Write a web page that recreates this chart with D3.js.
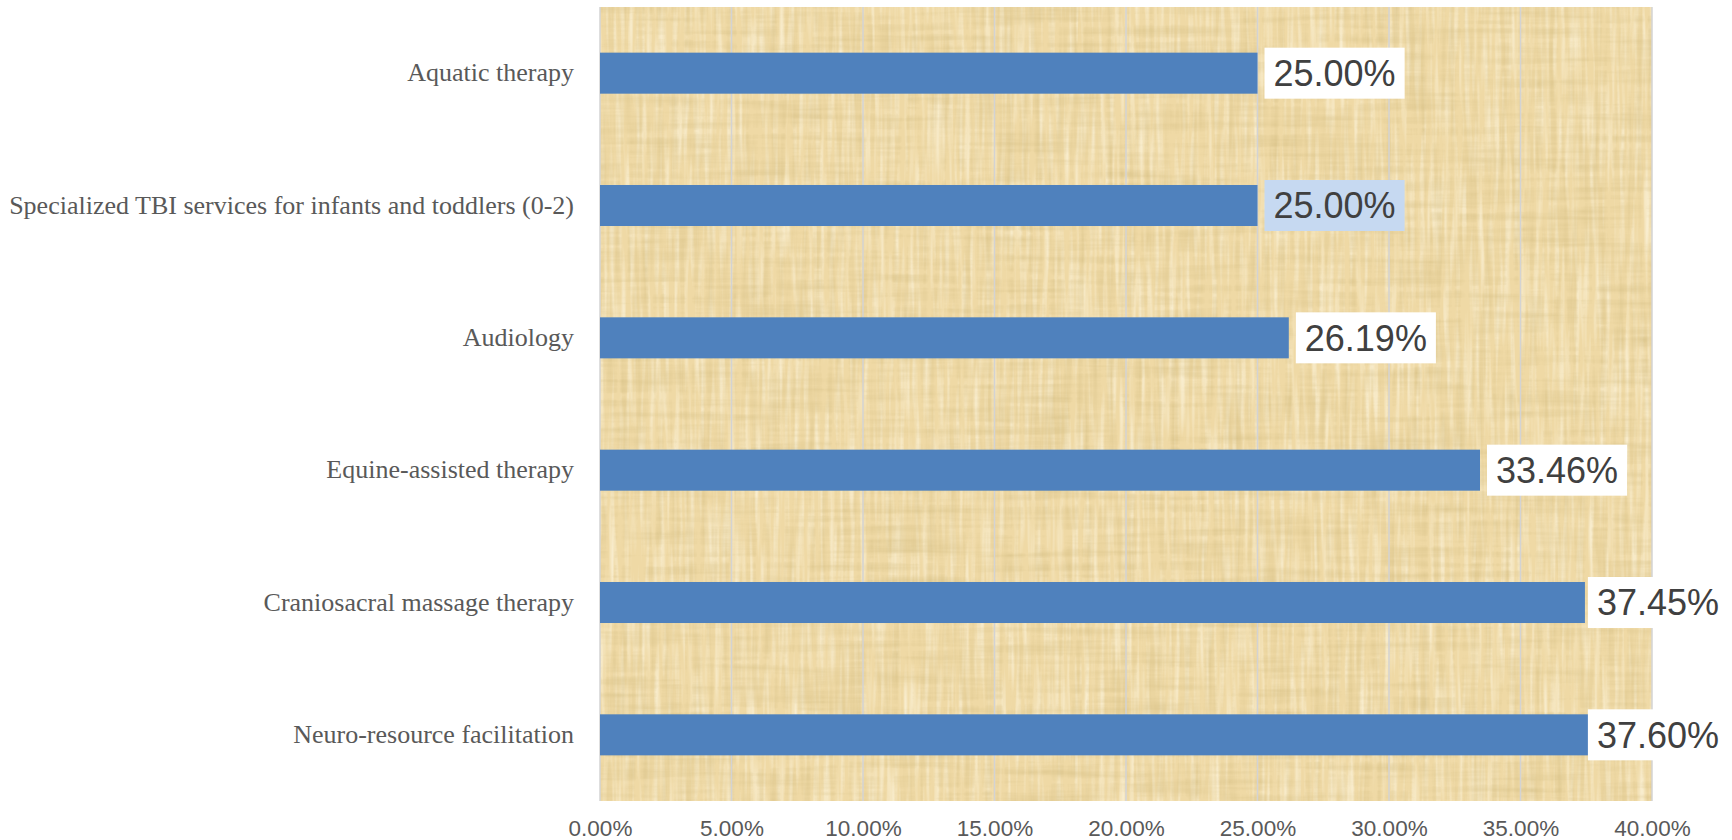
<!DOCTYPE html>
<html>
<head>
<meta charset="utf-8">
<script src="https://cdn.jsdelivr.net/npm/d3@7"></script>
<style>
  html, body { margin: 0; padding: 0; background: #ffffff; }
  svg { display: block; }
</style>
</head>
<body>
<svg id="chart" width="1732" height="840"></svg>
<script>
// ---- data ----
const categories = [
  "Aquatic therapy",
  "Specialized TBI services for infants and toddlers (0-2)",
  "Audiology",
  "Equine-assisted therapy",
  "Craniosacral massage therapy",
  "Neuro-resource facilitation"
];
const values = [25.00, 25.00, 26.19, 33.46, 37.45, 37.60];
const highlighted = [false, true, false, false, false, false];
const xTicks = [0, 5, 10, 15, 20, 25, 30, 35, 40];

// ---- layout ----
const W = 1732, H = 840;
const margin = { left: 600, top: 7 };
const plotW = 1052, plotH = 794;

const svg = d3.select("#chart");
const defs = svg.append("defs");

// papyrus-like texture filter
const f = defs.append("filter").attr("id", "papyrus")
  .attr("x", 0).attr("y", 0).attr("width", "100%").attr("height", "100%");
f.append("feTurbulence").attr("type", "fractalNoise")
  .attr("baseFrequency", "0.008 0.14").attr("numOctaves", 3).attr("seed", 4).attr("result", "h");
f.append("feTurbulence").attr("type", "fractalNoise")
  .attr("baseFrequency", "0.14 0.008").attr("numOctaves", 3).attr("seed", 9).attr("result", "v");
f.append("feComposite").attr("in", "h").attr("in2", "v").attr("operator", "arithmetic")
  .attr("k2", 0.5).attr("k3", 0.5).attr("result", "mix");
f.append("feColorMatrix").attr("in", "mix").attr("type", "matrix")
  .attr("values", "0 0 0 0 0.62  0 0 0 0 0.48  0 0 0 0 0.2  1.3 0 0 0 -0.55");

const f2 = defs.append("filter").attr("id", "papyrusLight")
  .attr("x", 0).attr("y", 0).attr("width", "100%").attr("height", "100%");
f2.append("feTurbulence").attr("type", "fractalNoise")
  .attr("baseFrequency", "0.2 0.012").attr("numOctaves", 2).attr("seed", 21).attr("result", "n");
f2.append("feColorMatrix").attr("in", "n").attr("type", "matrix")
  .attr("values", "0 0 0 0 1  0 0 0 0 0.96  0 0 0 0 0.82  1.4 0 0 0 -0.6");

const x = d3.scaleLinear().domain([0, 40]).range([0, plotW]);
const y = d3.scaleBand().domain(categories).range([0, plotH])
  .paddingInner(0.69).paddingOuter(0.345);

const g = svg.append("g").attr("transform", `translate(${margin.left},${margin.top})`);

// plot background
g.append("rect").attr("width", plotW).attr("height", plotH).attr("fill", "#efd9a5");
g.append("rect").attr("width", plotW).attr("height", plotH).attr("fill", "#fff")
  .attr("filter", "url(#papyrusLight)");
g.append("rect").attr("width", plotW).attr("height", plotH).attr("fill", "#fff")
  .attr("filter", "url(#papyrus)");

// gridlines
g.selectAll("line.grid").data(xTicks).join("line")
  .attr("class", "grid")
  .attr("x1", d => x(d)).attr("x2", d => x(d))
  .attr("y1", 0).attr("y2", plotH)
  .attr("stroke", "#d3d3d3").attr("stroke-width", 1.5);

// bars
g.selectAll("rect.bar").data(categories).join("rect")
  .attr("class", "bar")
  .attr("x", 0)
  .attr("y", d => y(d))
  .attr("width", (d, i) => x(values[i]))
  .attr("height", y.bandwidth())
  .attr("fill", "#4f81bd");

// x axis (labels only)
const xAxis = d3.axisBottom(x).tickValues(xTicks)
  .tickFormat(d => d.toFixed(2) + "%").tickSize(0).tickPadding(0);
const ax = g.append("g").attr("transform", `translate(0,${plotH})`).call(xAxis);
ax.select(".domain").remove();
ax.selectAll("text")
  .attr("y", 35)
  .attr("dy", 0)
  .attr("font-family", "'Liberation Sans', Arial, sans-serif")
  .attr("font-size", 22.5)
  .attr("fill", "#595959");

// y axis (category labels)
const yAxis = d3.axisLeft(y).tickSize(0).tickPadding(26);
const ay = g.append("g").call(yAxis);
ay.select(".domain").remove();
ay.selectAll("text")
  .attr("font-family", "'Liberation Serif', 'DejaVu Serif', serif")
  .attr("font-size", 26)
  .attr("fill", "#595959")
  .attr("dy", "0.32em");

// data labels
const lab = g.selectAll("g.dlabel").data(categories).join("g")
  .attr("class", "dlabel");
const boxes = lab.append("rect")
  .attr("y", -25.5).attr("height", 51)
  .attr("fill", (d, i) => highlighted[i] ? "#c6d9f1" : "#ffffff");
const texts = lab.append("text")
  .attr("x", 9)
  .attr("dy", "0.36em")
  .attr("font-family", "'Liberation Sans', Arial, sans-serif")
  .attr("font-size", 36)
  .attr("fill", "#404040")
  .text((d, i) => values[i].toFixed(2) + "%");
texts.each(function (d, i) {
  const bw = this.getComputedTextLength() + 18;
  d3.select(boxes.nodes()[i]).attr("width", bw);
  const maxX = W - margin.left - 4 - bw;
  const bx = Math.min(x(values[i]) + 7, maxX);
  d3.select(lab.nodes()[i])
    .attr("transform", `translate(${bx},${y(d) + y.bandwidth() / 2})`);
});
</script>
</body>
</html>
